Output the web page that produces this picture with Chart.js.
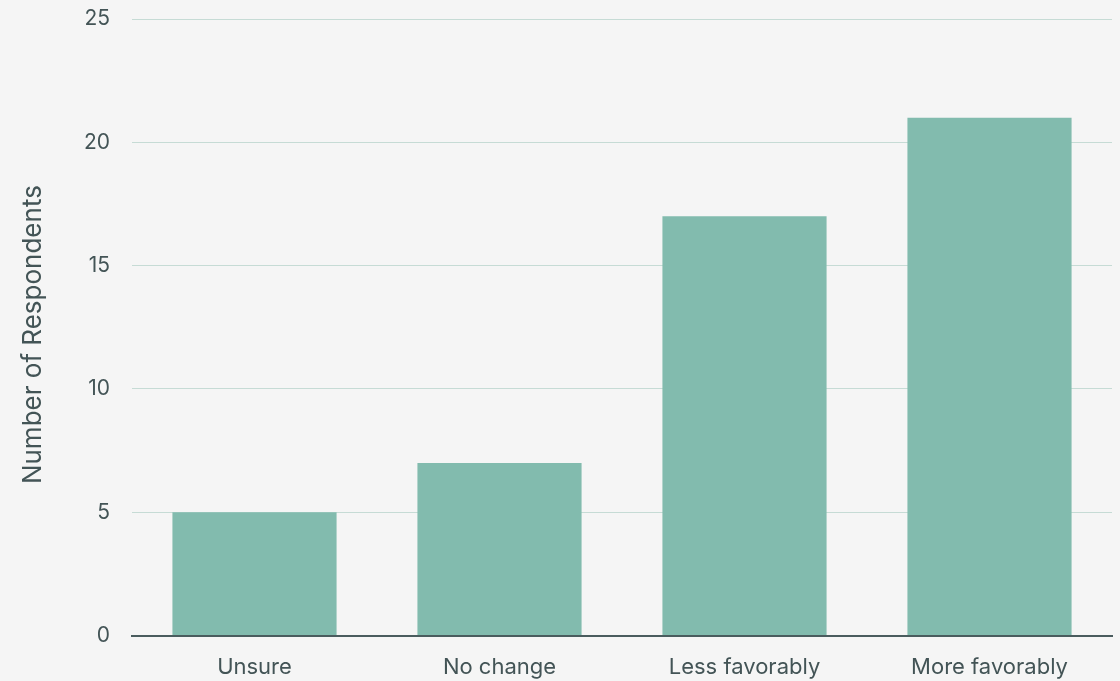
<!DOCTYPE html>
<html><head><meta charset="utf-8">
<script src="https://cdn.jsdelivr.net/npm/chart.js@4.4.1/dist/chart.umd.min.js"></script>
<style>html,body{margin:0;padding:0;background:#f5f5f5;}#w{width:1120px;height:681px;}</style>
</head><body><div id="w"><canvas id="c"></canvas></div>
<script>
const categories = ["Unsure", "No change", "Less favorably", "More favorably"];
const respondents = [5, 7, 17, 21];
const yTicks = [0, 5, 10, 15, 20, 25];
const yTitle = "Number of Respondents";

const textColor = "#435456";
Chart.defaults.font.family = "Inter, 'Noto Sans', sans-serif";
new Chart(document.getElementById("c"), {
  type: "bar",
  data: { labels: categories, datasets: [{ data: respondents, backgroundColor: "#82bbae", categoryPercentage: 0.67, barPercentage: 1 }] },
  options: {
    responsive: true, maintainAspectRatio: false, animation: false,
    layout: { padding: { left: 0, right: 8, top: 19, bottom: 0 } },
    plugins: { legend: { display: false }, tooltip: { enabled: false } },
    scales: {
      x: {
        grid: { display: true, drawOnChartArea: false, drawTicks: true, tickLength: 19, tickColor: "rgba(0,0,0,0)", color: "rgba(0,0,0,0)" },
        border: { display: true, color: "#4a5c5e", width: 2 },
        ticks: { color: textColor, font: { size: 22 }, padding: 0 }
      },
      y: {
        min: 0, max: 25,
        afterBuildTicks: (s) => { s.ticks = yTicks.map(v => ({ value: v })); },
        afterFit: (s) => { s.width = 132; },
        grid: { color: "#c6dbd5", lineWidth: 1, drawTicks: true, tickLength: 22, tickColor: "rgba(0,0,0,0)" },
        border: { display: false },
        ticks: { color: textColor, font: { size: 21 }, padding: 0 },
        title: { display: true, text: yTitle + "  ", color: textColor, font: { size: 26 }, padding: { top: 18, bottom: 0 } }
      }
    }
  }
});
</script></body></html>
